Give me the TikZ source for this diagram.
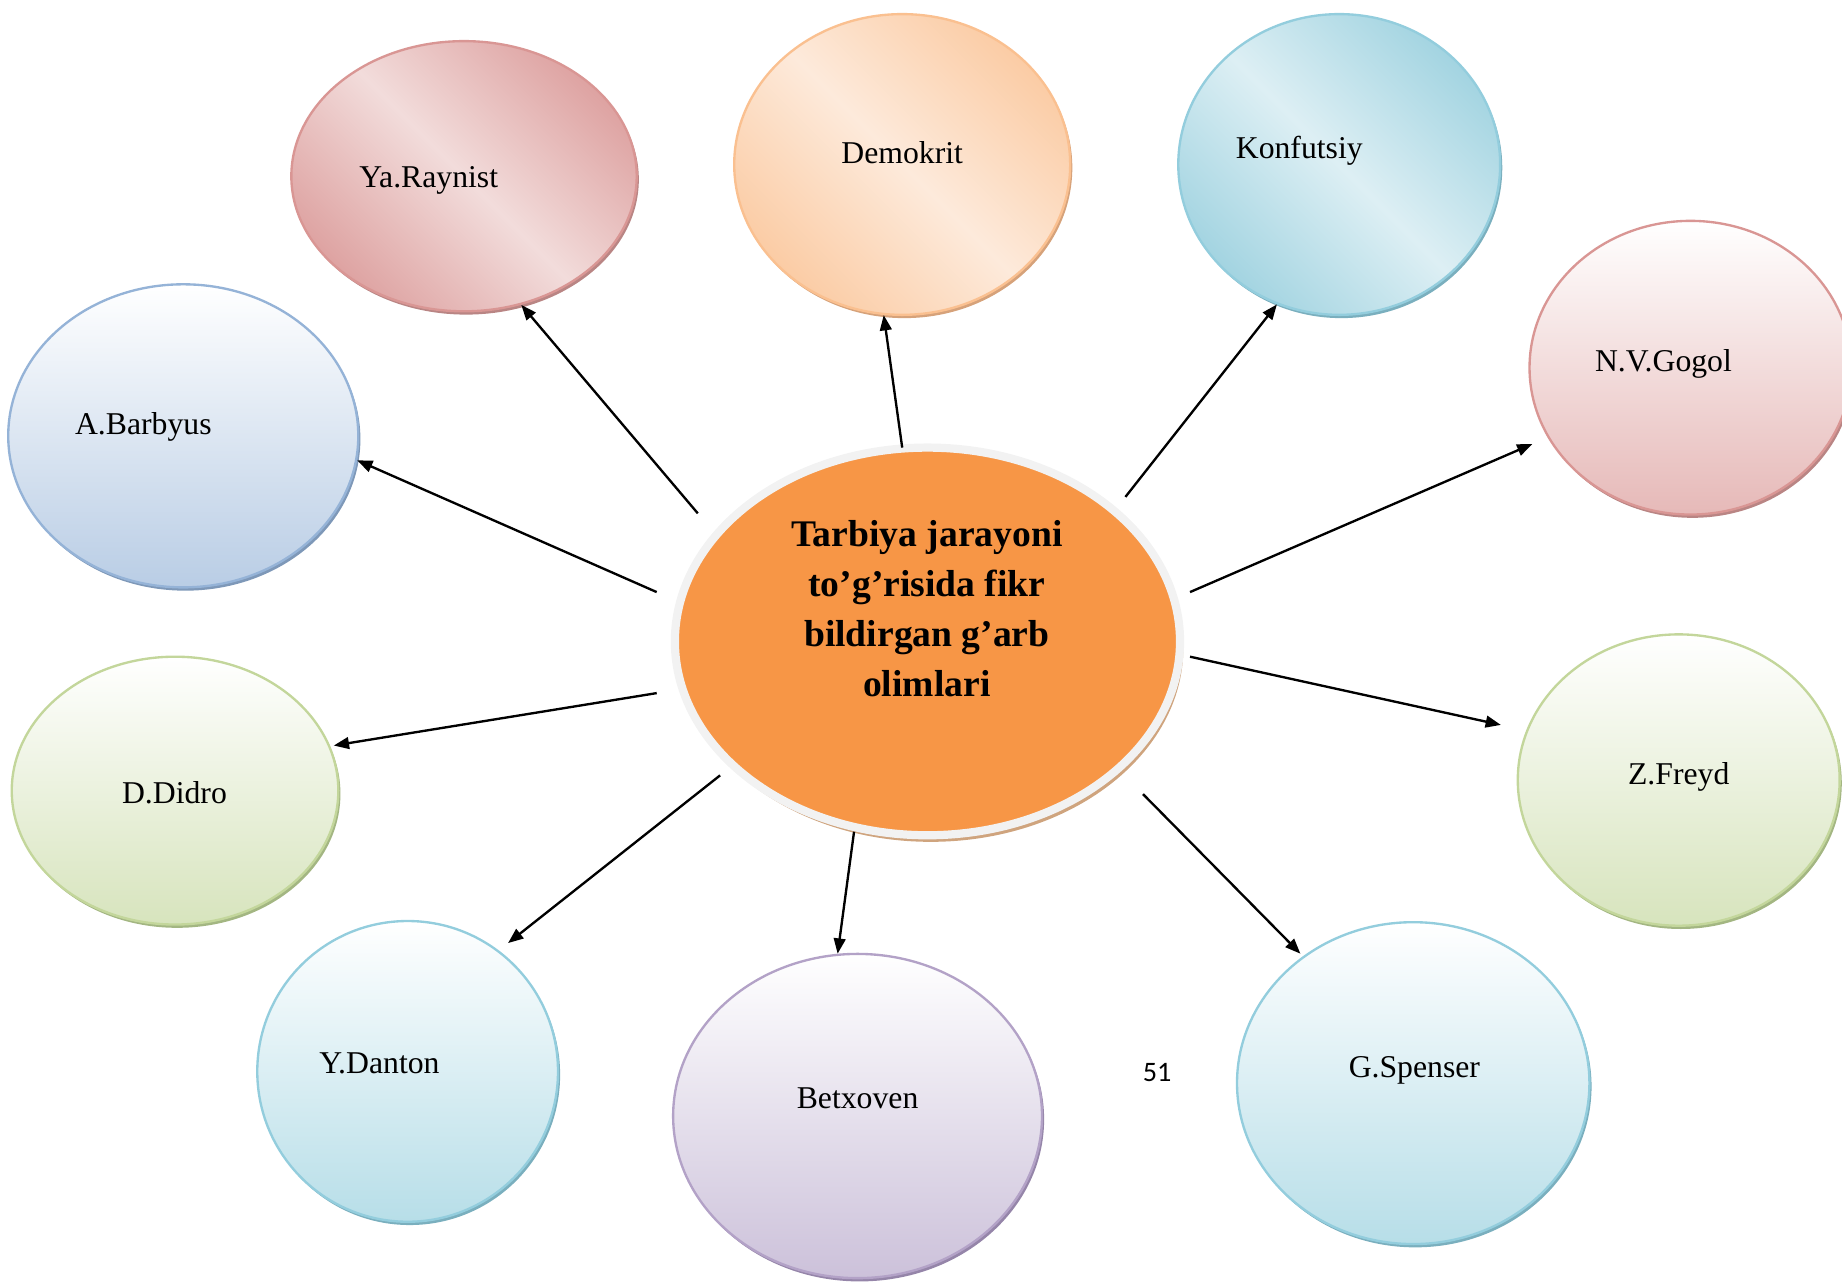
\documentclass[tikz,border=0pt]{standalone}
\usepackage{fontspec}
\setmainfont{Liberation Serif}
\newfontfamily\pagenumfont{Carlito}
\usetikzlibrary{shapes.geometric,arrows.meta,shadows}
\definecolor{redB}{HTML}{D99694}
\definecolor{redD}{HTML}{DEA3A2}
\definecolor{redL}{HTML}{F2DCDB}
\definecolor{redF}{HTML}{E6B9B8}
\definecolor{redS}{HTML}{B98584}
\definecolor{orB}{HTML}{FAC090}
\definecolor{orD}{HTML}{FBCCA5}
\definecolor{orL}{HTML}{FDEADB}
\definecolor{orS}{HTML}{D6A27A}
\definecolor{aqB}{HTML}{93CDDD}
\definecolor{aqD}{HTML}{A3D4E1}
\definecolor{aqL}{HTML}{DDEFF4}
\definecolor{aqF}{HTML}{B7DEE8}
\definecolor{aqS}{HTML}{7AAFBE}
\definecolor{stB}{HTML}{95B3D7}
\definecolor{stF}{HTML}{B9CDE5}
\definecolor{stS}{HTML}{7E98B8}
\definecolor{grB}{HTML}{C3D69B}
\definecolor{grF}{HTML}{D7E4BD}
\definecolor{grS}{HTML}{A3B682}
\definecolor{puB}{HTML}{B3A2C7}
\definecolor{puF}{HTML}{CCC1DA}
\definecolor{puS}{HTML}{9585A9}
\definecolor{centre}{HTML}{F79646}
\definecolor{ring}{HTML}{F2F2F2}
\definecolor{centreS}{HTML}{CFA47E}
\tikzset{
  bubble/.style={ellipse, inner sep=0pt, line width=1pt},
  shad/.style={drop shadow={shadow xshift=0.9pt, shadow yshift=-1.4pt, fill=#1, opacity=1}},
  diagfill/.style n args={3}{draw=#1, shading=axis, top color=#2, bottom color=#2, middle color=#3, shading angle=-45},
  vertfill/.style 2 args={draw=#1, top color=white, bottom color=#2},
  lbltext/.style={anchor=base, inner sep=0pt, font=\fontsize{13.5}{16}\selectfont},
  ctitle/.style={align=center, inner sep=0pt, font=\fontsize{16}{21.25}\selectfont\bfseries},
  arr/.style={line width=1pt, -{Triangle[length=6.5pt,width=5pt]}}
}
\begin{document}
\begin{tikzpicture}[x=0.5pt,y=-0.5pt]
\useasboundingbox (0,0) rectangle (1568,1093);
% outer bubbles
\node[bubble, shad=redS, diagfill={redB}{redD}{redL}, minimum width=147pt, minimum height=115pt] (ya) at (395,150) {};
\node[bubble, shad=orS, diagfill={orB}{orD}{orL}, minimum width=143pt, minimum height=128pt] (demo) at (768,140) {};
\node[bubble, shad=aqS, diagfill={aqB}{aqD}{aqL}, minimum width=137pt, minimum height=128pt] (konf) at (1140,140) {};
\node[bubble, shad=redS, vertfill={redB}{redF}, minimum width=137pt, minimum height=125pt] (gogol) at (1439,313) {};
\node[bubble, shad=stS, vertfill={stB}{stF}, minimum width=149pt, minimum height=129pt] (barb) at (156,371) {};
\node[bubble, shad=grS, vertfill={grB}{grF}, minimum width=139pt, minimum height=114pt] (didro) at (149,673) {};
\node[bubble, shad=aqS, vertfill={aqB}{aqF}, minimum width=128pt, minimum height=128pt] (danton) at (347,912) {};
\node[bubble, shad=puS, vertfill={puB}{puF}, minimum width=157pt, minimum height=138pt] (betx) at (730,950) {};
\node[bubble, shad=aqS, vertfill={aqB}{aqF}, minimum width=150pt, minimum height=137pt] (spen) at (1203,922) {};
\node[bubble, shad=grS, vertfill={grB}{grF}, minimum width=137pt, minimum height=124pt] (freyd) at (1429,664) {};
% centre
\node[ellipse, inner sep=0pt, fill=centre, draw=ring, line width=3.5pt, minimum width=215pt, minimum height=165pt,
      drop shadow={shadow xshift=1.4pt, shadow yshift=-2.8pt, fill=centreS, opacity=1}] (c) at (789.5,546) {};
% texts
\node[lbltext] (ya-t) at (365,160) {Ya.Raynist};
\node[lbltext] (demo-t) at (768,139) {Demokrit};
\node[lbltext] (konf-t) at (1106,135) {Konfutsiy};
\node[lbltext] (gogol-t) at (1416,316) {N.V.Gogol};
\node[lbltext] (barb-t) at (122,370) {A.Barbyus};
\node[lbltext] (didro-t) at (148.5,684) {D.Didro};
\node[lbltext] (danton-t) at (323,914) {Y.Danton};
\node[lbltext] (betx-t) at (730,944) {Betxoven};
\node[lbltext] (spen-t) at (1204,917) {G.Spenser};
\node[lbltext] (freyd-t) at (1429,668) {Z.Freyd};
\node[ctitle] (c-t) at (789,518) {Tarbiya jarayoni\\to’g’risida fikr\\bildirgan g’arb\\olimlari};
\node[anchor=base, inner sep=0pt, font=\pagenumfont\fontsize{12}{14}\selectfont] (pg) at (985,921) {51};
% connector start points
\coordinate (s1) at (594,437);
\coordinate (s2) at (768,381);
\coordinate (s3) at (958,423);
\coordinate (s4) at (1013,504);
\coordinate (s5) at (559,504);
\coordinate (s6) at (559,590);
\coordinate (s7) at (613,660);
\coordinate (s8) at (727,708);
\coordinate (s9) at (973,676);
\coordinate (s10) at (1013,559);
\draw[arr] (s1) -- (ya.-66.3);
\draw[arr] (s2) -- (demo.263.6);
\draw[arr] (s3) -- (konf.246.1);
\draw[arr, shorten >=7pt] (s4) -- (gogol.206.1);
\draw[arr] (s5) -- (barb.-8.8);
\draw[arr, shorten >=1.5pt] (s6) -- (didro.16.8);
\draw[arr, shorten >=5pt] (s7) -- (danton.53.3);
\draw[arr] (s8) -- (betx.97.8);
\draw[arr, shorten >=1.5pt] (s9) -- (spen.131.7);
\draw[arr, shorten >=11pt] (s10) -- (freyd.162.2);
\end{tikzpicture}
\end{document}
